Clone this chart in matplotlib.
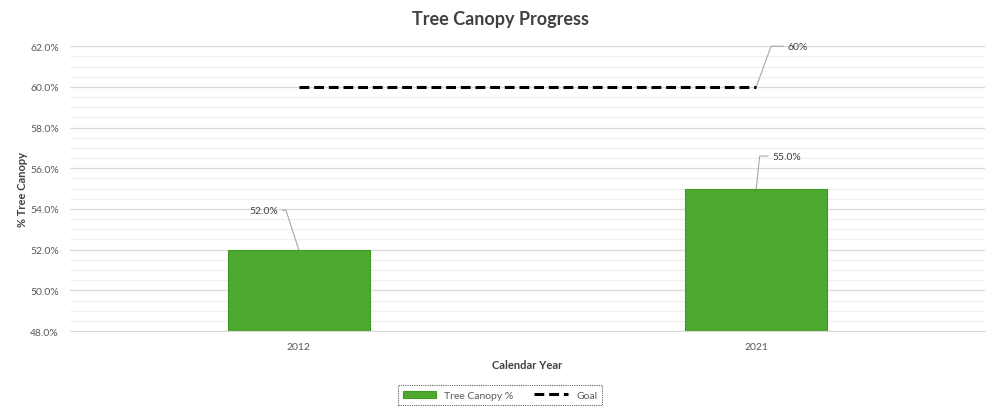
import matplotlib.pyplot as plt
import numpy as np
from matplotlib.ticker import MultipleLocator, FuncFormatter

plt.rcParams['font.family'] = ['Lato', 'DejaVu Sans']

# data
years = ["2012", "2021"]
canopy = [52.0, 55.0]
goal = [60.0, 60.0]

x = np.arange(len(years))

fig = plt.figure(figsize=(10, 4.14), dpi=100)
ax = fig.add_axes([0.07, 0.198, 0.915, 0.688])

bars = ax.bar(x, canopy, width=0.31, bottom=0, color="#4EA72E", edgecolor="#3f9a22",
              linewidth=0.8, label="Tree Canopy %", zorder=3)
goal_line, = ax.plot(x, goal, color="black", linestyle=(0, (3.2, 1.6)), linewidth=2.2,
                     label="Goal", zorder=4)

ax.set_xlim(-0.5, 1.5)
ax.set_ylim(48, 62)
ax.yaxis.set_major_locator(MultipleLocator(2))
ax.yaxis.set_minor_locator(MultipleLocator(0.5))
ax.yaxis.set_major_formatter(FuncFormatter(lambda v, p: "%.1f%%" % v))
ax.set_xticks(x)
ax.set_xticklabels(years)

ax.grid(axis="y", which="major", color="#d9d9d9", linewidth=0.9, zorder=0)
ax.grid(axis="y", which="minor", color="#efefef", linewidth=0.8, zorder=0)
ax.set_axisbelow(True)

for s in ["top", "right", "left"]:
    ax.spines[s].set_visible(False)
ax.spines["bottom"].set_color("#d9d9d9")
ax.tick_params(axis="both", which="both", length=0, labelsize=7.5, labelcolor="#595959")
ax.tick_params(axis="x", pad=8)
ax.tick_params(axis="y", pad=8)

ax.set_xlabel("Calendar Year", fontsize=8, fontweight="bold", color="#404040", labelpad=6)
ax.set_ylabel("% Tree Canopy", fontsize=8, fontweight="bold", color="#404040")
ax.yaxis.set_label_coords(-0.046, 0.5)
fig.text(0.5, 0.952, "Tree Canopy Progress", fontsize=13, fontweight="bold", color="#404040",
         ha="center", va="center")

# data labels with leader lines
lab_kw = dict(fontsize=7.5, color="#404040", va="center", annotation_clip=False)
lc = "#a6a6a6"
ax.annotate("52.0%", xy=(x[0], canopy[0]), xytext=(x[0] - 0.045, 53.94), ha="right",
            arrowprops=dict(arrowstyle="-", color=lc, lw=0.8, relpos=(1, 0.5),
                            shrinkA=1, shrinkB=0,
                            connectionstyle="angle,angleA=0,angleB=108,rad=0"), **lab_kw)
ax.annotate("55.0%", xy=(x[1], canopy[1]), xytext=(x[1] + 0.035, 56.6), ha="left",
            arrowprops=dict(arrowstyle="-", color=lc, lw=0.8, relpos=(0, 0.5),
                            shrinkA=1, shrinkB=0,
                            connectionstyle="angle,angleA=0,angleB=84,rad=0"), **lab_kw)
ax.annotate("%d%%" % goal[1], xy=(x[1], goal[1]), xytext=(x[1] + 0.068, 62.0), ha="left",
            arrowprops=dict(arrowstyle="-", color=lc, lw=0.8, relpos=(0, 0.5),
                            shrinkA=1, shrinkB=0,
                            connectionstyle="angle,angleA=0,angleB=70,rad=0"), **lab_kw)

leg = fig.legend(handles=[bars, goal_line], loc="center", bbox_to_anchor=(0.5, 0.043),
                 ncol=2, fontsize=7.5, frameon=True, fancybox=False, handlelength=3.2,
                 columnspacing=2.0, borderpad=0.5)
leg.get_frame().set_edgecolor("#404040")
leg.get_frame().set_linestyle((0, (1, 1)))
leg.get_frame().set_linewidth(0.8)
for t in leg.get_texts():
    t.set_color("#595959")

fig.savefig("out.png", dpi=100)
